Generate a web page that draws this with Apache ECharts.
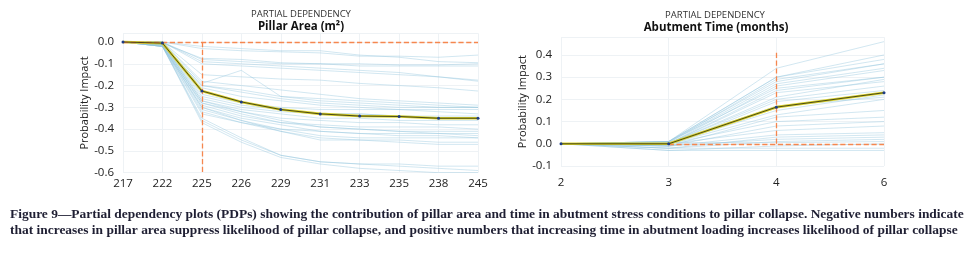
<!DOCTYPE html>
<html>
<head>
<meta charset="utf-8">
<script src="https://cdn.jsdelivr.net/npm/echarts@6/dist/echarts.min.js"></script>
<style>
  html, body { margin: 0; padding: 0; background: #fff; }
  #main { width: 971px; height: 254px; }
</style>
</head>
<body>
<div id="main"></div>
<script>
// ---- data ----
var leftCategories = ['217', '222', '225', '226', '229', '231', '233', '235', '238', '245'];
var leftMean = [0, -0.005, -0.225, -0.275, -0.31, -0.33, -0.34, -0.342, -0.35, -0.35];
var leftIce = [
  [0, 0, -0.03, -0.04, -0.045, -0.05, -0.065, -0.065, -0.07, -0.06],
  [0, 0, -0.02, -0.03, -0.04, -0.04, -0.06, -0.07, -0.09, -0.095],
  [0, 0, -0.08, -0.09, -0.1, -0.1, -0.11, -0.11, -0.11, -0.11],
  [0, 0, -0.1, -0.11, -0.12, -0.13, -0.14, -0.15, -0.16, -0.18],
  [0, -0.005, -0.075, -0.08, -0.095, -0.1, -0.1, -0.105, -0.105, -0.1],
  [0, 0, -0.19, -0.13, -0.25, -0.27, -0.28, -0.29, -0.3, -0.3],
  [0, -0.01, -0.2, -0.23, -0.26, -0.28, -0.29, -0.3, -0.3, -0.3],
  [0, -0.01, -0.21, -0.25, -0.27, -0.29, -0.3, -0.31, -0.32, -0.33],
  [0, 0, -0.15, -0.16, -0.17, -0.175, -0.19, -0.2, -0.21, -0.225],
  [0, 0, -0.09, -0.1, -0.11, -0.12, -0.13, -0.14, -0.16, -0.175],
  [0, -0.01, -0.24, -0.28, -0.3, -0.31, -0.31, -0.31, -0.31, -0.31],
  [0, -0.01, -0.26, -0.3, -0.32, -0.33, -0.33, -0.34, -0.34, -0.34],
  [0, -0.01, -0.27, -0.32, -0.35, -0.36, -0.37, -0.37, -0.38, -0.38],
  [0, -0.015, -0.28, -0.33, -0.37, -0.38, -0.39, -0.39, -0.39, -0.4],
  [0, -0.01, -0.29, -0.34, -0.37, -0.39, -0.4, -0.41, -0.41, -0.41],
  [0, -0.02, -0.3, -0.35, -0.38, -0.41, -0.42, -0.43, -0.43, -0.44],
  [0, -0.015, -0.31, -0.36, -0.4, -0.43, -0.44, -0.44, -0.44, -0.44],
  [0, -0.02, -0.32, -0.37, -0.41, -0.44, -0.45, -0.45, -0.46, -0.46],
  [0, -0.015, -0.3, -0.36, -0.41, -0.45, -0.45, -0.46, -0.47, -0.47],
  [0, -0.01, -0.27, -0.31, -0.33, -0.35, -0.35, -0.36, -0.36, -0.36],
  [0, -0.01, -0.25, -0.29, -0.31, -0.33, -0.33, -0.34, -0.35, -0.35],
  [0, -0.02, -0.33, -0.37, -0.4, -0.41, -0.42, -0.42, -0.42, -0.43],
  [0, -0.02, -0.28, -0.32, -0.36, -0.39, -0.4, -0.41, -0.42, -0.42],
  [0, -0.02, -0.36, -0.45, -0.52, -0.55, -0.56, -0.57, -0.58, -0.59],
  [0, -0.02, -0.37, -0.46, -0.53, -0.56, -0.58, -0.59, -0.6, -0.6],
  [0, -0.02, -0.35, -0.44, -0.52, -0.55, -0.56, -0.56, -0.57, -0.57],
  [0, -0.01, -0.2, -0.22, -0.25, -0.26, -0.27, -0.28, -0.29, -0.3],
  [0, 0, -0.18, -0.2, -0.22, -0.24, -0.26, -0.27, -0.28, -0.29]
];

var rightCategories = ['2', '3', '4', '6'];
var rightMean = [0, 0, 0.165, 0.23];
var rightIce = [
  [0, 0.01, 0.34, 0.46],
  [0, 0.01, 0.3, 0.4],
  [0, 0.01, 0.3, 0.38],
  [0, 0.005, 0.29, 0.36],
  [0, 0.01, 0.28, 0.36],
  [0, 0.005, 0.27, 0.34],
  [0, 0, 0.26, 0.33],
  [0, 0.01, 0.25, 0.3],
  [0, 0, 0.24, 0.3],
  [0, 0, 0.23, 0.28],
  [0, 0, 0.21, 0.29],
  [0, 0, 0.2, 0.26],
  [0, -0.005, 0.19, 0.24],
  [0, 0, 0.17, 0.21],
  [0, 0, 0.15, 0.22],
  [0, 0, 0.13, 0.2],
  [0, -0.01, 0.12, 0.15],
  [0, 0, 0.1, 0.12],
  [0, -0.01, 0.08, 0.1],
  [0, 0, 0.06, 0.08],
  [0, -0.01, 0.04, 0.05],
  [0, -0.02, 0.03, 0.04],
  [0, -0.01, 0.02, 0.03],
  [0, -0.02, 0.01, 0.02],
  [0, -0.03, -0.01, 0],
  [0, -0.02, -0.02, -0.02],
  [0, -0.03, -0.03, -0.03],
  [0, 0.005, 0.005, 0.01]
];

var leftYTicks = [-0.6, 0.04];   // y range, label step 0.1
var rightYTicks = [-0.1, 0.48];

var captionLines = [
  'Figure 9\u2014Partial dependency plots (PDPs) showing the contribution of pillar area and time in abutment stress conditions to pillar collapse. Negative numbers indicate',
  'that increases in pillar area suppress likelihood of pillar collapse, and positive numbers that increasing time in abutment loading increases likelihood of pillar collapse'
];

// ---- chart ----
var labelFont = '"Open Sans", "DejaVu Sans", sans-serif';
var orange = '#f5874f';

function tickLabel(v) {
  var r = Math.round(v * 10) / 10;
  if (Math.abs(r - v) > 1e-6) return '';
  return r.toFixed(1);
}

function xAxisOf(idx, cats, margin) {
  return {
    type: 'category', gridIndex: idx, data: cats, boundaryGap: false,
    axisLine: { show: false }, axisTick: { show: false },
    axisLabel: { color: '#222', fontSize: 11.5, fontFamily: labelFont, margin: margin },
    splitLine: { show: true, lineStyle: { color: '#eef2f5', width: 1 } }
  };
}

function yAxisOf(idx, range) {
  return {
    type: 'value', gridIndex: idx, min: range[0], max: range[1], interval: 0.1,
    name: 'Probability Impact', nameLocation: 'middle', nameGap: 32, nameRotate: 90,
    nameTextStyle: { color: '#222', fontSize: 11, fontFamily: labelFont },
    axisLine: { show: false }, axisTick: { show: false },
    axisLabel: { color: '#222', fontSize: 11.5, fontFamily: labelFont, margin: 9, formatter: tickLabel },
    splitLine: { show: true, lineStyle: { color: '#eef2f5', width: 1 } }
  };
}

function iceSeries(lines, idx) {
  return lines.map(function (d) {
    return {
      type: 'line', xAxisIndex: idx, yAxisIndex: idx, data: d, symbol: 'none', silent: true,
      lineStyle: { color: '#8ec3dc', width: 0.8, opacity: 0.5 }, z: 2
    };
  });
}

function meanSeries(d, idx, marks) {
  return [
    { type: 'line', xAxisIndex: idx, yAxisIndex: idx, data: d, symbol: 'none', silent: true,
      lineStyle: { color: '#d6cf2c', width: 2.6 }, z: 4 },
    { type: 'line', xAxisIndex: idx, yAxisIndex: idx, data: d, symbol: 'circle', symbolSize: 3,
      itemStyle: { color: '#1d3c86' }, lineStyle: { color: '#3a3a12', width: 0.9 }, z: 5,
      markLine: {
        silent: true, symbol: 'none', label: { show: false },
        lineStyle: { color: orange, type: 'dashed', width: 1.3 },
        data: marks
      }
    }
  ];
}

var myChart = echarts.init(document.getElementById('main'));

var series = [].concat(
  iceSeries(leftIce, 0),
  meanSeries(leftMean, 0, [
    [{ coord: ['217', 0] }, { coord: ['245', 0] }],
    [{ coord: ['225', 0] }, { coord: ['225', -0.6] }]
  ]),
  iceSeries(rightIce, 1),
  meanSeries(rightMean, 1, [
    [{ coord: ['3', 0] }, { coord: ['6', 0] }],
    [{ coord: ['4', 0] }, { coord: ['4', 0.41] }]
  ])
);

// caption font size fitted to the figure width
var ctx = document.createElement('canvas').getContext('2d');
var capFamily = '"Liberation Serif", "DejaVu Serif", serif';
ctx.font = 'bold 100px ' + capFamily;
var capSize = Math.min(14, 100 * 955 / ctx.measureText(captionLines[0]).width);

var option = {
  animation: false,
  grid: [
    { left: 123, top: 33.3, width: 355, height: 139.4 },
    { left: 561, top: 37.2, width: 323, height: 128.8 }
  ],
  xAxis: [xAxisOf(0, leftCategories, 5), xAxisOf(1, rightCategories, 11)],
  yAxis: [yAxisOf(0, leftYTicks), yAxisOf(1, rightYTicks)],
  series: series,
  graphic: [
    { type: 'text', x: 301, y: 14, style: { text: 'PARTIAL DEPENDENCY', align: 'center', verticalAlign: 'middle', fill: '#333', font: '9.5px ' + labelFont } },
    { type: 'text', x: 301, y: 27, style: { text: 'Pillar Area (m\u00b2)', align: 'center', verticalAlign: 'middle', fill: '#111', font: 'bold 11.5px ' + labelFont } },
    { type: 'text', x: 715, y: 15, style: { text: 'PARTIAL DEPENDENCY', align: 'center', verticalAlign: 'middle', fill: '#333', font: '9.5px ' + labelFont } },
    { type: 'text', x: 716, y: 28, style: { text: 'Abutment Time (months)', align: 'center', verticalAlign: 'middle', fill: '#111', font: 'bold 11.5px ' + labelFont } },
    { type: 'text', x: 10, y: 215, style: { text: captionLines[0], align: 'left', verticalAlign: 'middle', fill: '#1f1f33', font: 'bold ' + capSize + 'px ' + capFamily } },
    { type: 'text', x: 10, y: 231, style: { text: captionLines[1], align: 'left', verticalAlign: 'middle', fill: '#1f1f33', font: 'bold ' + capSize + 'px ' + capFamily } }
  ]
};

myChart.setOption(option);
</script>
</body>
</html>
